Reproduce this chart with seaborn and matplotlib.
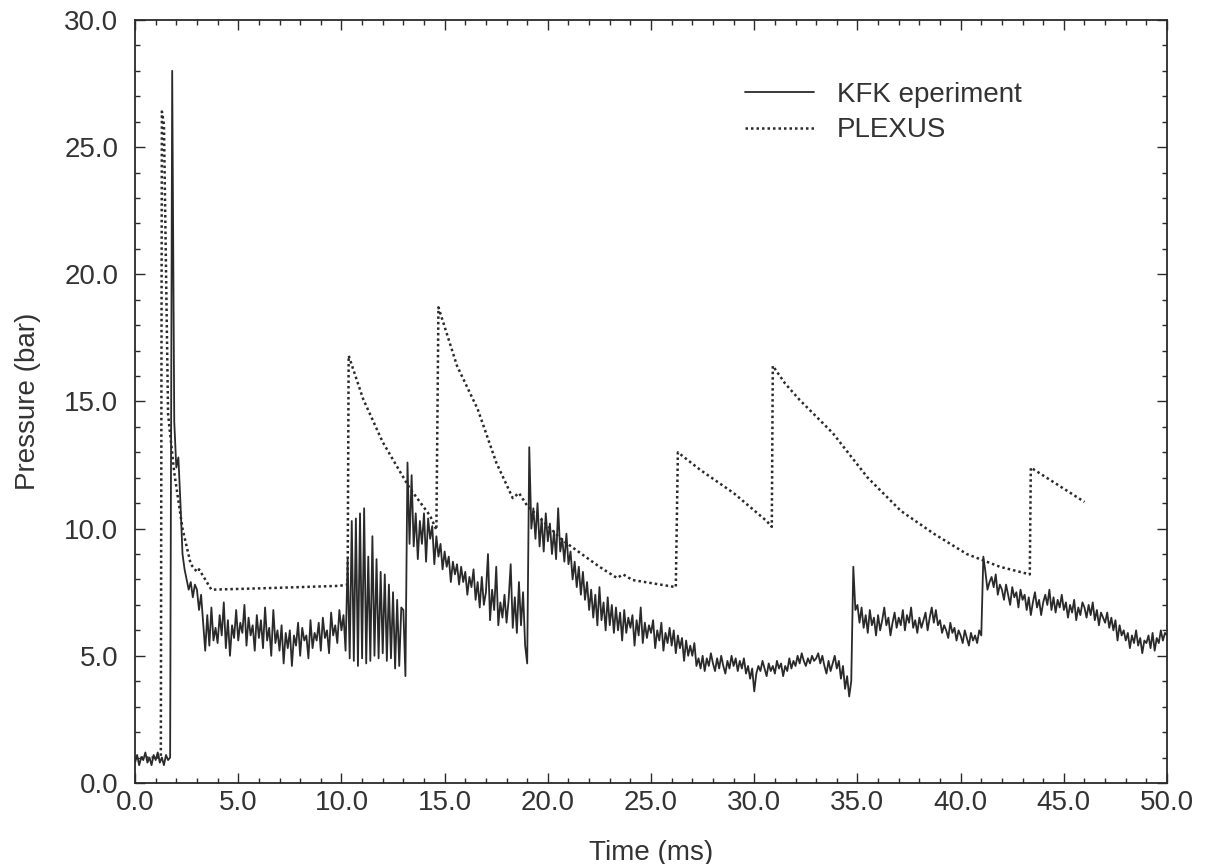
import numpy as np
import pandas as pd
import matplotlib
matplotlib.use("Agg")
import matplotlib.pyplot as plt
import seaborn as sns
from matplotlib.ticker import MultipleLocator, FormatStrFormatter

kfk_step = 0.1
kfk_pressure = [
    0.8, 1.1, 0.7, 1.0, 0.9, 1.2, 0.8, 1.0, 0.7, 1.1,      # 0
    0.9, 1.2, 0.8, 1.0, 0.7, 1.1, 0.9, 1.0, 28.0, 14.2,    # 1
    12.4, 12.8, 11.0, 9.0, 8.4, 8.0, 7.6, 7.9, 7.3, 7.8,   # 2
    7.6, 6.8, 7.4, 6.3, 5.2, 6.6, 5.4, 6.9, 5.6, 6.1,      # 3
    5.5, 6.6, 5.8, 7.1, 5.3, 6.4, 5.0, 6.2, 5.7, 6.8,      # 4
    5.6, 6.3, 5.9, 7.0, 5.4, 6.5, 5.8, 6.2, 5.2, 6.6,      # 5
    5.7, 6.4, 5.3, 6.9, 5.6, 6.1, 5.0, 6.8, 5.5, 6.0,      # 6
    5.2, 6.2, 4.7, 5.9, 5.3, 6.0, 4.6, 5.8, 5.4, 6.3,      # 7
    5.0, 6.1, 5.6, 5.8, 4.9, 6.4, 5.3, 5.9, 5.6, 6.3,      # 8
    5.2, 6.5, 5.7, 6.0, 5.1, 6.7, 5.8, 6.2, 5.5, 6.8,      # 9
    6.0, 6.6, 5.2, 8.8, 4.9, 10.3, 4.8, 10.4, 4.6, 10.6,   # 10
    4.9, 10.8, 4.7, 8.9, 4.8, 9.7, 5.0, 8.8, 4.9, 8.3,     # 11
    5.1, 8.2, 4.8, 7.8, 4.9, 7.5, 4.5, 7.2, 4.6, 6.9,      # 12
    6.8, 4.2, 12.6, 9.4, 12.1, 9.3, 10.6, 8.8, 10.3, 9.4,  # 13
    10.6, 8.7, 10.4, 9.6, 10.1, 8.6, 9.7, 8.9, 9.4, 8.4,   # 14
    9.1, 8.5, 8.9, 7.9, 8.7, 8.2, 8.6, 7.8, 8.5, 7.9,      # 15
    8.3, 7.4, 8.1, 7.7, 8.4, 7.2, 7.9, 6.9, 8.1, 7.0,      # 16
    7.5, 9.0, 6.4, 7.6, 6.8, 8.5, 6.2, 7.1, 6.5, 7.4,      # 17
    6.3, 7.2, 8.6, 6.1, 7.3, 5.9, 7.9, 6.2, 7.5, 5.4,      # 18
    4.7, 13.2, 10.0, 10.8, 9.6, 11.0, 9.3, 10.4, 9.1, 10.6,  # 19
    9.5, 10.2, 9.0, 9.9, 8.8, 10.8, 9.1, 9.6, 8.7, 9.8,    # 20
    8.6, 9.1, 8.0, 8.7, 7.7, 8.5, 7.4, 8.3, 7.2, 7.9,      # 21
    6.8, 7.6, 6.5, 7.4, 6.2, 7.7, 6.4, 7.1, 6.0, 7.3,      # 22
    6.2, 7.0, 5.9, 6.9, 6.0, 6.7, 5.6, 6.8, 5.9, 6.5,      # 23
    6.1, 6.6, 5.4, 6.4, 5.8, 6.9, 5.5, 6.3, 5.7, 6.2,      # 24
    5.9, 6.4, 5.3, 6.0, 5.6, 6.3, 5.2, 5.9, 5.5, 6.1,      # 25
    5.4, 6.0, 5.1, 5.8, 5.3, 5.7, 4.8, 5.6, 5.0, 5.4,      # 26
    5.0, 5.5, 4.6, 4.9, 4.5, 5.0, 4.4, 4.9, 4.6, 5.1,      # 27
    4.7, 4.4, 4.9, 4.5, 5.0, 4.6, 4.3, 4.8, 4.5, 5.0,      # 28
    4.6, 4.9, 4.4, 4.8, 4.5, 4.9, 4.3, 4.6, 4.1, 4.5,      # 29
    3.6, 4.3, 4.6, 4.4, 4.8, 4.5, 4.2, 4.7, 4.4, 4.6,      # 30
    4.3, 4.8, 4.5, 4.7, 4.2, 4.6, 4.4, 4.9, 4.5, 4.8,      # 31
    4.6, 5.0, 4.7, 5.1, 4.8, 4.6, 4.9, 4.7, 5.0, 4.8,      # 32
    4.9, 5.1, 4.7, 5.0, 4.6, 4.3, 4.8, 4.4, 4.7, 5.0,      # 33
    4.5, 4.8, 4.1, 4.6, 3.7, 4.2, 3.4, 4.0, 8.5, 6.8,      # 34
    7.0, 6.3, 6.9, 6.1, 6.6, 5.9, 6.8, 6.2, 6.5, 5.8,      # 35
    6.6, 6.0, 6.4, 6.9, 6.2, 6.5, 5.8, 6.3, 6.7, 6.1,      # 36
    6.5, 6.2, 6.8, 6.0, 6.6, 6.3, 6.9, 6.1, 6.4, 5.9,      # 37
    6.5, 6.1, 6.4, 6.7, 6.0, 6.5, 6.9, 6.3, 6.8, 6.2,      # 38
    6.4, 5.9, 6.2, 6.0, 5.7, 6.3, 5.9, 6.1, 5.6, 6.0,      # 39
    5.8, 5.5, 6.0, 5.7, 5.4, 5.9, 5.6, 5.8, 5.5, 6.0,      # 40
    5.8, 8.9, 8.3, 7.6, 7.9, 8.1, 7.7, 8.2, 7.4, 7.8,      # 41
    7.6, 7.2, 7.8, 7.4, 7.0, 7.7, 7.3, 7.5, 6.9, 7.6,      # 42
    7.2, 7.4, 6.8, 7.3, 6.6, 7.1, 7.5, 6.9, 7.2, 6.6,      # 43
    7.1, 7.4, 7.0, 7.6, 6.8, 7.3, 6.7, 7.2, 6.9, 7.4,      # 44
    6.8, 7.1, 6.5, 7.0, 6.7, 7.2, 6.4, 6.9, 6.6, 7.1,      # 45
    6.9, 6.5, 7.0, 6.6, 7.1, 6.4, 6.8, 6.2, 6.7, 6.5,      # 46
    6.3, 6.7, 6.1, 6.5, 6.0, 6.4, 5.6, 6.2, 5.8, 6.0,      # 47
    5.6, 5.9, 5.3, 5.8, 5.5, 6.0, 5.4, 5.7, 5.1, 5.6,      # 48
    5.5, 5.8, 5.3, 5.9, 5.2, 5.7, 5.5, 6.0, 5.6, 5.9,      # 49
    5.8,                                                   # 50
]
kfk_time = np.round(np.arange(len(kfk_pressure)) * kfk_step, 2)

# PLEXUS calculation (dotted), break points
plexus_time = [0.0, 1.25, 1.3, 1.4, 1.6, 1.9, 2.3, 2.7, 3.0, 3.1, 3.7, 6.0, 9.9,
               10.3, 10.35, 11.05, 12.0, 13.3, 14.3, 14.6, 14.7, 15.6, 16.6, 17.5,
               18.3, 18.6, 19.0, 20.7, 22.5, 23.35, 23.65, 24.1, 26.2, 26.3, 27.4,
               29.0, 30.6, 30.85, 30.9, 31.5, 32.2, 33.8, 35.5, 37.1, 38.7, 40.3,
               41.9, 43.35, 43.4, 46.0]
plexus_pressure = [1.0, 1.0, 26.4, 25.9, 14.5, 12.2, 10.0, 8.6, 8.3, 8.4, 7.6, 7.65, 7.75,
                   7.8, 16.8, 15.1, 13.4, 11.6, 10.5, 9.95, 18.7, 16.4, 14.7, 12.6,
                   11.2, 11.4, 10.9, 9.55, 8.5, 8.06, 8.2, 7.98, 7.7, 13.0, 12.3,
                   11.4, 10.3, 10.07, 16.4, 15.7, 15.06, 13.76, 12.0, 10.7, 9.8, 9.0,
                   8.5, 8.2, 12.4, 11.05]

sns.set_theme(style="ticks")
plt.rcParams["font.family"] = ["Liberation Sans", "DejaVu Sans"]

fig = plt.figure(figsize=(12.1, 8.64), dpi=100)
ax = fig.add_axes([0.1116, 0.0938, 0.8529, 0.8831])

ink = "#2a2a2a"
sns.lineplot(x=kfk_time, y=kfk_pressure, ax=ax, color=ink, lw=1.3,
             estimator=None, sort=False, label="KFK eperiment")
sns.lineplot(x=plexus_time, y=plexus_pressure, ax=ax, color=ink, lw=1.8,
             linestyle=(0, (1, 1.2)), estimator=None, sort=False, label="PLEXUS")

ax.set_xlim(0, 50)
ax.set_ylim(0, 30)
ax.xaxis.set_major_locator(MultipleLocator(5))
ax.xaxis.set_minor_locator(MultipleLocator(1))
ax.yaxis.set_major_locator(MultipleLocator(5))
ax.yaxis.set_minor_locator(MultipleLocator(1))
ax.xaxis.set_major_formatter(FormatStrFormatter("%.1f"))
ax.yaxis.set_major_formatter(FormatStrFormatter("%.1f"))
ax.tick_params(which="both", direction="in", top=True, right=True, color=ink, width=1.0)
ax.tick_params(which="major", length=7)
ax.tick_params(which="minor", length=3.5)
ax.tick_params(axis="x", which="major", labelsize=20, pad=5, labelcolor="#333333")
ax.tick_params(axis="y", which="major", labelsize=20, pad=12, labelcolor="#333333")
for side in ax.spines.values():
    side.set_color(ink)
    side.set_linewidth(1.3)

ax.set_xlabel("Time (ms)", fontsize=20, color="#333333", labelpad=17)
ax.set_ylabel("Pressure (bar)", fontsize=20, color="#333333", labelpad=17)

ax.legend(loc="upper left", bbox_to_anchor=(0.591, 0.919), frameon=False,
          fontsize=20, handlelength=2.5, handletextpad=0.8, labelspacing=0.35,
          borderpad=0, borderaxespad=0, labelcolor="#333333")

fig.savefig("out.png", dpi=100)
